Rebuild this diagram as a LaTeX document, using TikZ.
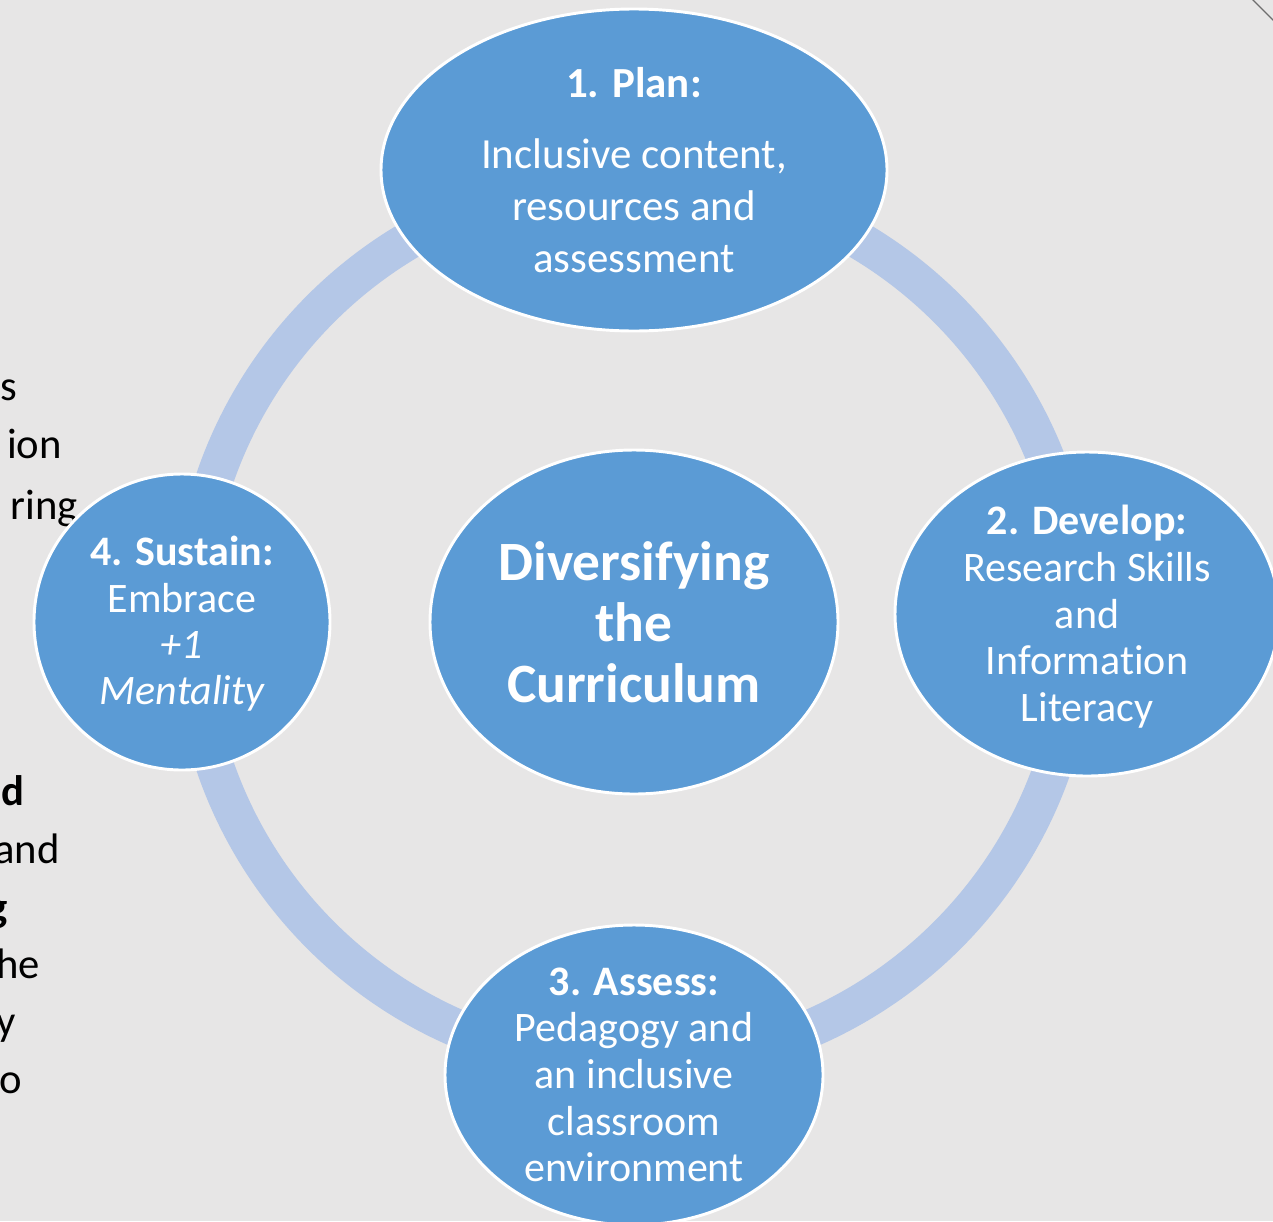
\documentclass[tikz,border=0pt]{standalone}
\usepackage{fontspec}
\setmainfont{Carlito}[Ligatures=NoCommon]
\usetikzlibrary{shapes.geometric}
\definecolor{bgc}{HTML}{E7E6E6}
\definecolor{bubc}{HTML}{5B9BD5}
\definecolor{ringc}{HTML}{B4C7E7}
\definecolor{linec}{HTML}{6E6E6E}
\tikzset{
  bub/.style={ellipse, draw=white, line width=2.2pt, fill=bubc, inner sep=0pt},
  bubtxt/.style={text=white, align=center, inner sep=0pt},
  frag/.style={text=black, anchor=base east, inner sep=0pt, font=\fontsize{32}{36}\selectfont},
}
\begin{document}
\begin{tikzpicture}[x=0.75pt,y=-0.75pt]
\useasboundingbox (0,0) rectangle (1273,1221);
\clip (0,0) rectangle (1273,1221);
\fill[bgc] (0,0) rectangle (1273,1221);
% corner line fragment
\draw[linec, line width=0.9pt] (1252,-1) -- (1274,21);
% left text fragments
\node[frag] (f1) at (17,400) {s};
\node[frag] (f2) at (62,458) {ion};
\node[frag] (f3) at (78,519) {ring};
\node[frag] (f4) at (25,805) {\bfseries d};
\node[frag] (f5) at (60,863) {and};
\node[frag] (f6) at (8,921) {\bfseries g};
\node[frag] (f7) at (40,978) {he};
\node[frag] (f8) at (16,1035) {y};
\node[frag] (f9) at (22,1093) {o};
% ring
\coordinate (c) at (634,622);
\draw[ringc, line width=28.5pt] (c) circle[radius=443];
% bubbles
\node[bub, minimum width=379.5pt, minimum height=241.5pt] (plan) at (634,170) {};
\node[bub, minimum width=288pt, minimum height=243pt] (develop) at (1087,614) {};
\node[bub, minimum width=283.5pt, minimum height=225pt] (assess) at (634,1075) {};
\node[bub, minimum width=222pt, minimum height=222pt] (sustain) at (182,622) {};
\node[bub, minimum width=306pt, minimum height=258pt] (centre) at (634,622) {};
% texts
\node[bubtxt, font=\fontsize{32.2}{39}\selectfont] (plantxt) at (plan)
  {\bfseries 1. Plan:\\[14.25pt] Inclusive content,\\ resources and\\ assessment};
\node[bubtxt, font=\fontsize{31.5}{35}\selectfont] (developtxt) at ([yshift=-2.2pt]develop.center)
  {\bfseries 2. Develop:\\ Research Skills\\ and\\ Information\\ Literacy};
\node[bubtxt, font=\fontsize{31.5}{35}\selectfont] (assesstxt) at (assess)
  {\bfseries 3. Assess:\\ Pedagogy and\\ an inclusive\\ classroom\\ environment};
\node[bubtxt, font=\fontsize{31.5}{34.7}\selectfont] (sustaintxt) at ([yshift=-1.5pt]sustain.center)
  {\bfseries 4. Sustain:\\ Embrace\\ \itshape +1\\ \itshape Mentality};
\node[bubtxt, font=\fontsize{41.6}{45.75}\selectfont\bfseries] (centretxt) at (centre)
  {Diversifying\\ the\\ Curriculum};
\end{tikzpicture}
\end{document}
